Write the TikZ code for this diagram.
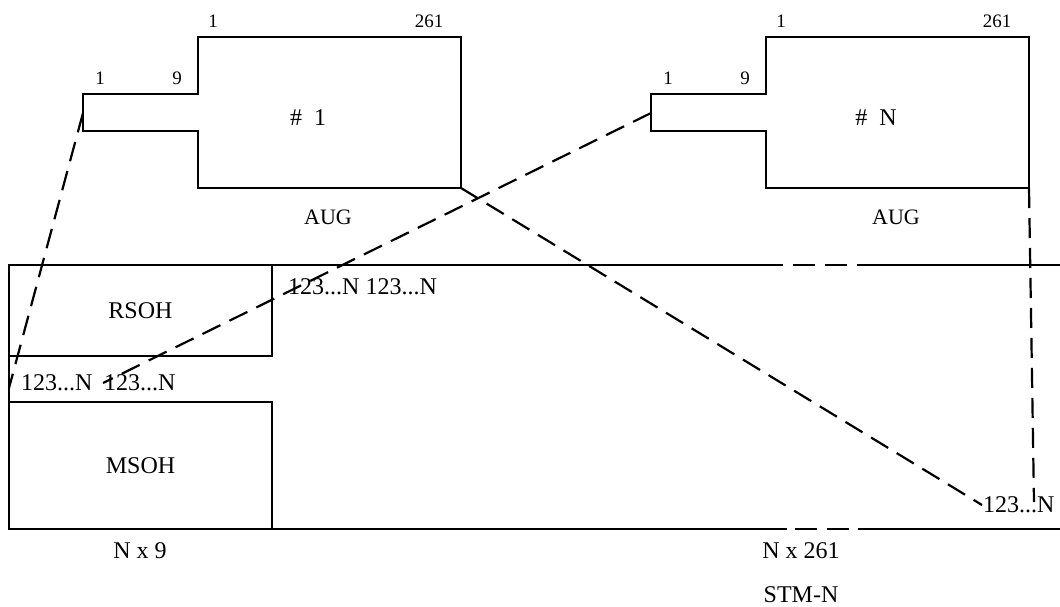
\documentclass[tikz,border=0pt]{standalone}
\usepackage{fontspec}
\setmainfont{Liberation Serif}
\usetikzlibrary{positioning}

\begin{document}
\begin{tikzpicture}[x=0.5pt,y=-0.5pt,line width=1.2pt,frame/.style={draw,minimum width=131.5pt,outer sep=0pt,font=\fontsize{12}{14}\selectfont},lbl/.style={inner sep=0pt,font=\fontsize{12}{14}\selectfont},num/.style={inner sep=0pt,font=\fontsize{9.5}{11}\selectfont},link/.style={dash pattern=on 10pt off 5pt,line width=1.1pt},gap/.style={dash pattern=on 11pt off 5pt}]
\useasboundingbox (0,0) rectangle (1060,606);
% the two AUG frames
\foreach \s/\n in {0/1,568/N}{
\begin{scope}[shift={(\s,0)}]
\draw (83,94) -- (198,94) -- (198,37) -- (461,37) -- (461,188) -- (198,188) -- (198,131) -- (83,131) -- cycle;
\coordinate (tab\n) at (83,113); \coordinate (corner\n) at (461,188);
\node[num] (sa\n) at (100,78) {1}; \node[num] (sb\n) at (177,78) {9};
\node[num] (pa\n) at (213,21) {1}; \node[num] (pb\n) at (429,21) {261};
\node[lbl] (aug\n) at (308,118) {\#\ \ \n};
\node[lbl,font=\fontsize{11}{13}\selectfont] (augl\n) at (328,217) {AUG};
\end{scope}}
% STM-N frame
\node[frame,minimum height=45.5pt] (rsoh) at (140.5,310.5) {RSOH};
\node[frame,minimum height=63.5pt] (msoh) at (140.5,465.5) {MSOH};
\draw (rsoh.north west) -- (783,265); \draw[gap] (793,265) -- (847,265); \draw (857,265) -- (1060,265);
\draw (msoh.south west) -- (787,529); \draw[gap] (795,529) -- (849,529); \draw (858,529) -- (1060,529);
\draw (rsoh.south west) -- (msoh.north west);
\node[lbl,anchor=west] (topcols) at (287,287) {123...N 123...N};
\node[lbl,anchor=west] (lowa) at (20,383) {123...N};
\node[lbl,anchor=west] (lowb) at (103,383) {123...N};
\node[lbl,anchor=west] (lowr) at (982,505) {123...N};
\node[lbl] (nx9) at (140,551) {N x 9};
\node[lbl] (nx261) at (801,551) {N x 261};
\node[lbl] (stm) at (801,595) {STM-N};
\coordinate (lowend) at (9,388); \coordinate (lowrN) at (1034,502);
\draw[link] (tab1) -- (lowend); \draw[link] (tabN) -- (lowb.west); \draw[link] (corner1) -- (lowr.west); \draw[link] (cornerN) -- (lowrN);
\end{tikzpicture}
\end{document}
